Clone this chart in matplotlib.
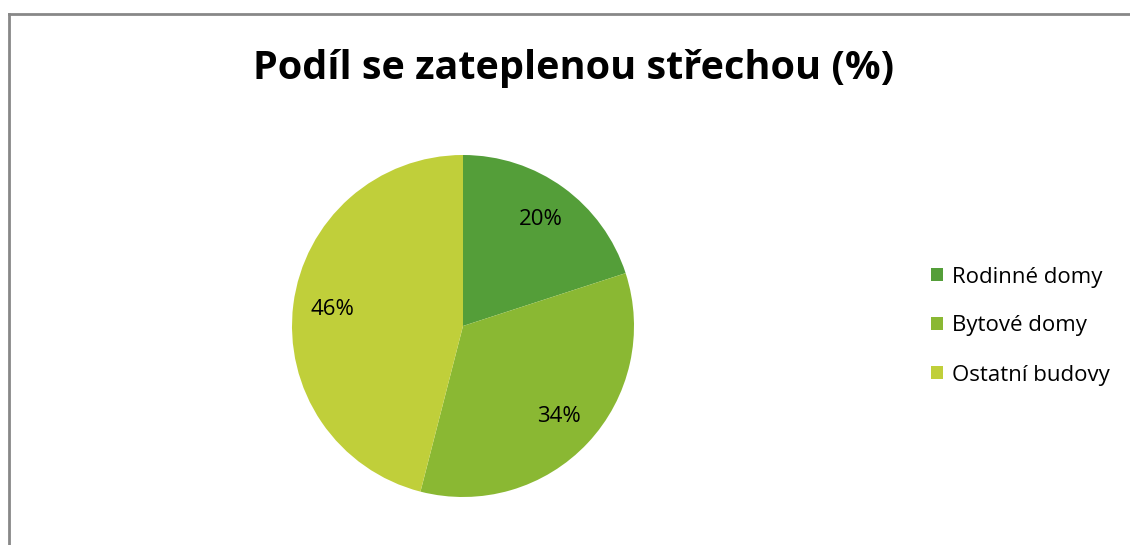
import matplotlib
matplotlib.use("Agg")
import matplotlib.pyplot as plt
from matplotlib.lines import Line2D
from matplotlib.patches import Patch

categories = ["Rodinné domy", "Bytové domy", "Ostatní budovy"]
values = [20, 34, 46]
colors = ["#549E39", "#8AB833", "#C0CF3A"]
title = "Podíl se zateplenou střechou (%)"

plt.rcParams['font.family'] = ['Open Sans', 'DejaVu Sans']

W, H = 1130, 545
fig = plt.figure(figsize=(W / 100, H / 100), dpi=100)
fig.patch.set_facecolor("white")

# chart border (partially visible)
fig.add_artist(Line2D([8.5 / W, 8.5 / W], [0, 1 - 13.5 / H], transform=fig.transFigure,
                      color="#888888", lw=2))
fig.add_artist(Line2D([8.5 / W, 1], [1 - 13.5 / H, 1 - 13.5 / H], transform=fig.transFigure,
                      color="#888888", lw=2))

cx, cy, r = 463, 326, 171
ax = fig.add_axes([(cx - r) / W, (H - cy - r) / H, 2 * r / W, 2 * r / H])
wedges, texts, autotexts = ax.pie(values, colors=colors, startangle=90, counterclock=False,
                                  autopct="%d%%", pctdistance=0.77, radius=1,
                                  wedgeprops=dict(linewidth=0))
for t in autotexts:
    t.set_fontsize(16)
    t.set_color("black")
ax.set_xlim(-1, 1)
ax.set_ylim(-1, 1)
ax.set_aspect("equal")
ax.axis("off")

fig.text(574 / W, 1 - 79 / H, title, ha="center", va="baseline", fontsize=28.5, fontweight="bold")

handles = [Patch(facecolor=c, edgecolor="none") for c in colors]
fig.legend(handles, categories, loc="center left", bbox_to_anchor=(931 / W, 1 - 326 / H),
           frameon=False, fontsize=16, handlelength=0.55, handleheight=0.55,
           handletextpad=0.4, labelspacing=1.26, borderpad=0, borderaxespad=0)

fig.savefig("out.png", dpi=100)
